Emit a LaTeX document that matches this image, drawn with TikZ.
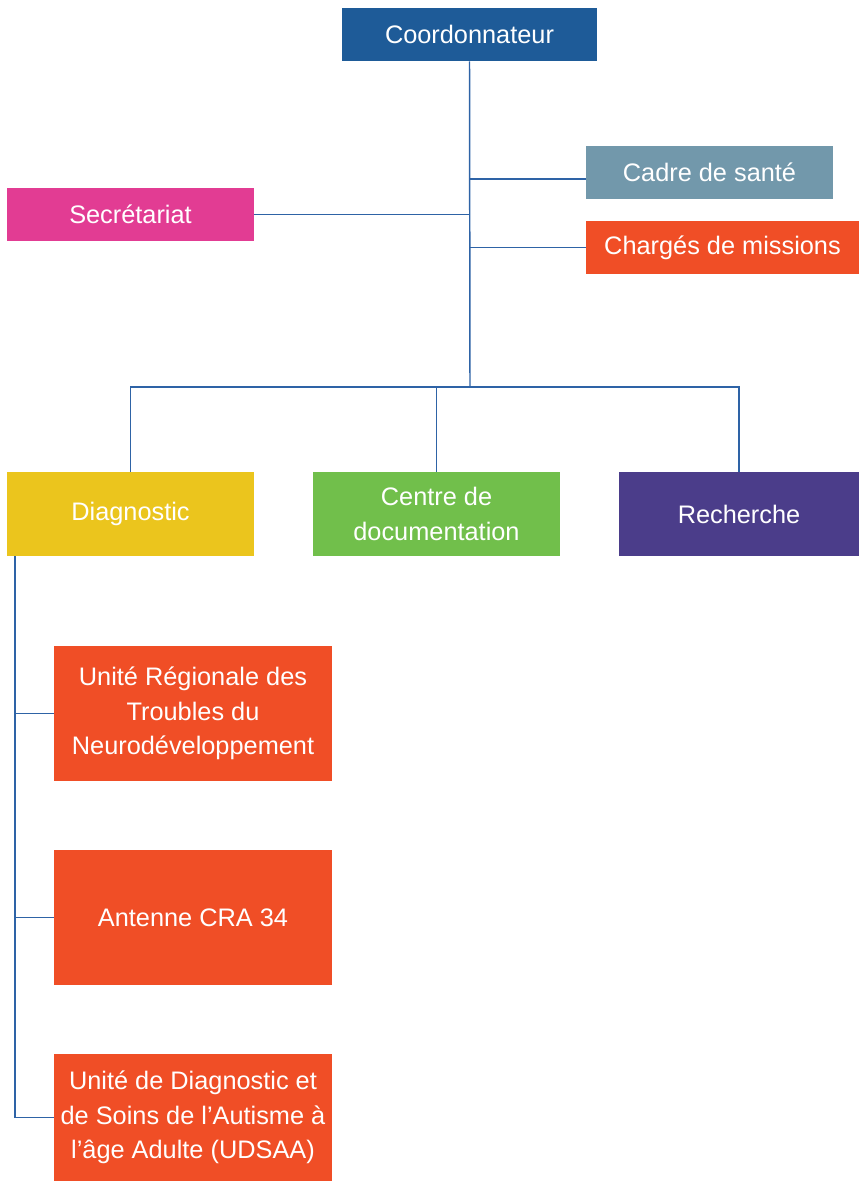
\documentclass[tikz,border=0pt]{standalone}
\usepackage{fontspec}
\setmainfont{Liberation Sans}
\definecolor{linkblue}{HTML}{2E63A6}
\definecolor{coordblue}{HTML}{1E5B98}
\definecolor{cadregray}{HTML}{7298AB}
\definecolor{secrpink}{HTML}{E23C93}
\definecolor{missred}{HTML}{F04E26}
\definecolor{diagyellow}{HTML}{EBC51D}
\definecolor{docgreen}{HTML}{71BF4B}
\definecolor{rechpurple}{HTML}{4B3D8A}
\tikzset{%
    unit/.style={%
        fill=#1, text=white, inner sep=0pt, align=center,
        font=\fontsize{19}{26}\selectfont
    },
    link/.style={draw=linkblue, line width=1.1pt}
}

\begin{document}
\begin{tikzpicture}[x=0.75pt,y=-0.75pt]
    \useasboundingbox (0,0) rectangle (859,1182);
    % top level
    \node[unit=coordblue, minimum width=191.25pt, minimum height=39.75pt] (coord) at (469.5,34.5) {Coordonnateur};
    \node[unit=cadregray, minimum width=185.25pt, minimum height=39.75pt] (cadre) at (709.5,172.5) {Cadre de santé};
    \node[unit=secrpink, minimum width=185.25pt, minimum height=39.75pt] (secr) at (130.5,214.5) {Secrétariat};
    \node[unit=missred, minimum width=204.75pt, minimum height=39.75pt] (miss) at (722.5,247.5) {Chargés de missions};
    % poles
    \node[unit=diagyellow, minimum width=185.25pt, minimum height=63pt] (diag) at (130.5,514) {Diagnostic};
    \node[unit=docgreen, minimum width=185.25pt, minimum height=63pt] (doc) at (436.5,514) {Centre de\\documentation};
    \node[unit=rechpurple, minimum width=180pt, minimum height=63pt] (rech) at (739,514) {Recherche};
    % diagnostic units
    \node[unit=missred, minimum width=208.5pt, minimum height=101.25pt] (urtnd) at (193,713.5) {Unité Régionale des\\Troubles du\\Neurodéveloppement};
    \node[unit=missred, minimum width=208.5pt, minimum height=101.25pt] (cra) at (193,917.5) {Antenne CRA 34};
    \node[unit=missred, minimum width=208.5pt, minimum height=95.25pt] (udsaa) at (193,1117.5) {Unité de Diagnostic et\\de Soins de l’Autisme à\\l’âge Adulte (UDSAA)};
    % connectors
    \coordinate (hub) at (470,387);
    \coordinate (jcadre) at (470,179);
    \coordinate (spine) at (15,556);
    \draw[link] (coord.south) -- (hub);
    \draw[link] (jcadre) -- (jcadre -| cadre.west);
    \draw[link] (secr.east) -- (secr.east -| hub);
    \draw[link] (miss.west) -- (miss.west -| hub);
    \draw[link] (diag.north) -- (diag.north |- hub) -- (rech.north |- hub) -- (rech.north);
    \draw[link] (doc.north) -- (doc.north |- hub);
    \draw[link] (spine) |- (udsaa.west);
    \draw[link] (spine |- urtnd.west) -- (urtnd.west);
    \draw[link] (spine |- cra.west) -- (cra.west);
\end{tikzpicture}
\end{document}
